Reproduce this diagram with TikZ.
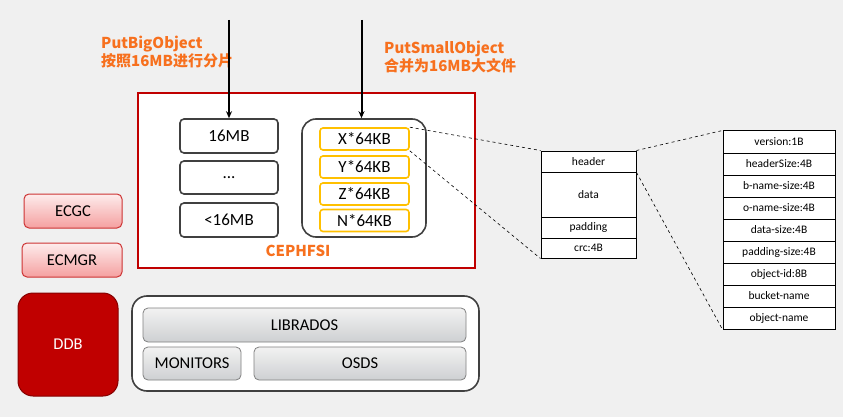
\documentclass[tikz,border=0pt]{standalone}
\usepackage{fontspec}
\setmainfont{Carlito}
\newfontfamily\cjk{Noto Sans CJK SC}
\usetikzlibrary{arrows.meta}
\definecolor{bgray}{RGB}{240,240,240}
\definecolor{darkred}{RGB}{192,0,0}
\definecolor{labelorange}{RGB}{247,112,30}
\definecolor{gold}{RGB}{255,192,0}
\definecolor{edge}{RGB}{64,64,64}
\begin{document}
\begin{tikzpicture}[x=1pt, y=-1pt,
    part/.style={rectangle, draw=edge, line width=1.6pt, rounded corners=4pt,
                 fill=white, inner sep=0pt, font=\fontsize{17}{19}\selectfont},
    chunk/.style={rectangle, draw=gold, line width=1.6pt, rounded corners=3pt,
                  fill=white, inner sep=0pt, minimum width=89, minimum height=22,
                  font=\fontsize{17}{19}\selectfont},
    ecbox/.style={rectangle, draw=darkred!80, line width=1pt, rounded corners=5pt,
                  top color={rgb,255:red,253;green,236;blue,236},
                  bottom color={rgb,255:red,245;green,160;blue,160},
                  inner sep=0pt, minimum height=34, font=\fontsize{16.5}{18}\selectfont},
    grayblock/.style={rectangle, draw=gray, line width=0.8pt, rounded corners=5pt,
                      top color={rgb,255:red,242;green,242;blue,242},
                      bottom color={rgb,255:red,206;green,208;blue,210},
                      inner sep=0pt, minimum height=33, font=\fontsize{16.5}{18}\selectfont},
    field/.style={rectangle, draw, line width=1pt, fill=white, inner sep=0pt,
                  font=\fontsize{11.5}{13}\selectfont},
    orangelabel/.style={text=labelorange, align=left, inner sep=0pt, anchor=north west,
                        font=\cjk\bfseries\fontsize{15}{18}\selectfont},
    feed/.style={-{Stealth[length=7pt, width=6pt]}, line width=2pt},
    link/.style={dashed, line width=0.6pt}
]
    \fill[bgray] (0,0) rectangle (843,417);

    % input labels
    \node[orangelabel] (bigtxt) at (101,36) {PutBigObject\\按照16MB进行分片};
    \node[orangelabel] (smalltxt) at (384,41) {PutSmallObject\\合并为16MB大文件};

    % CEPHFSI
    \node[rectangle, draw=darkred, line width=1.5pt, fill=white,
          minimum width=337, minimum height=175] (cephfsi) at (306.5,180.5) {};
    \node[text=labelorange, font=\cjk\bfseries\fontsize{15}{18}\selectfont] (cephlbl) at (298,251) {CEPHFSI};

    \node[part, minimum width=98, minimum height=34] (big16) at (229,136) {16MB};
    \node[part, minimum width=98, minimum height=33] (bigdots) at (229,177.5) {...};
    \node[part, minimum width=98, minimum height=34] (bigrest) at (229,220) {<16MB};

    \node[part, rounded corners=14pt, minimum width=124, minimum height=118] (merge) at (364,178) {};
    \node[chunk] (cx) at (364.5,139) {X*64KB};
    \node[chunk] (cy) at (364.5,167) {Y*64KB};
    \node[chunk] (cz) at (364.5,194) {Z*64KB};
    \node[chunk] (cn) at (364.5,220.5) {N*64KB};

    \coordinate (inbig) at (229,20);
    \coordinate (insmall) at (361.5,20);
    \draw[feed] (inbig) -- (big16.north);
    \draw[feed] (insmall) -- (insmall |- merge.north);

    % EC services
    \node[ecbox, minimum width=98] (ecgc) at (73,211) {ECGC};
    \node[ecbox, minimum width=100] (ecmgr) at (72,260) {ECMGR};
    \node[rectangle, draw=darkred!70!black, line width=1pt, fill=darkred, rounded corners=15pt,
          minimum width=100, minimum height=103, text=white,
          font=\fontsize{16.5}{18}\selectfont] (ddb) at (68,344.5) {DDB};

    % RADOS
    \node[part, rounded corners=15pt, minimum width=347, minimum height=95] (rados) at (305.5,343.5) {};
    \node[grayblock, minimum width=323, minimum height=34] (librados) at (304.5,325) {LIBRADOS};
    \node[grayblock, minimum width=98] (monitors) at (192,363.5) {MONITORS};
    \node[grayblock, minimum width=212] (osds) at (360,363.5) {OSDS};

    % merged file layout
    \node[field, minimum width=95, minimum height=21] (hdr) at (588.5,161.5) {header};
    \node[field, minimum width=95, minimum height=45] (dat) at (588.5,194.5) {data};
    \node[field, minimum width=95, minimum height=21] (pad) at (588.5,227.5) {padding};
    \node[field, minimum width=95, minimum height=20] (crc) at (588.5,248) {crc:4B};

    % header layout
    \node[field, minimum width=112, minimum height=22] (f1) at (779,142) {version:1B};
    \node[field, minimum width=112, minimum height=22] (f2) at (779,164) {headerSize:4B};
    \node[field, minimum width=112, minimum height=22] (f3) at (779,186) {b-name-size:4B};
    \node[field, minimum width=112, minimum height=22] (f4) at (779,208) {o-name-size:4B};
    \node[field, minimum width=112, minimum height=22] (f5) at (779,230) {data-size:4B};
    \node[field, minimum width=112, minimum height=22] (f6) at (779,252) {padding-size:4B};
    \node[field, minimum width=112, minimum height=22] (f7) at (779,274) {object-id:8B};
    \node[field, minimum width=112, minimum height=22] (f8) at (779,296) {bucket-name};
    \node[field, minimum width=112, minimum height=22] (f9) at (779,318) {object-name};

    \draw[link] (cx.north east) -- (hdr.north west);
    \draw[link] (cx.south east) -- (crc.south west);
    \draw[link] (hdr.north east) -- (f1.north west);
    \draw[link] (hdr.south east) -- (f9.south west);
\end{tikzpicture}
\end{document}
